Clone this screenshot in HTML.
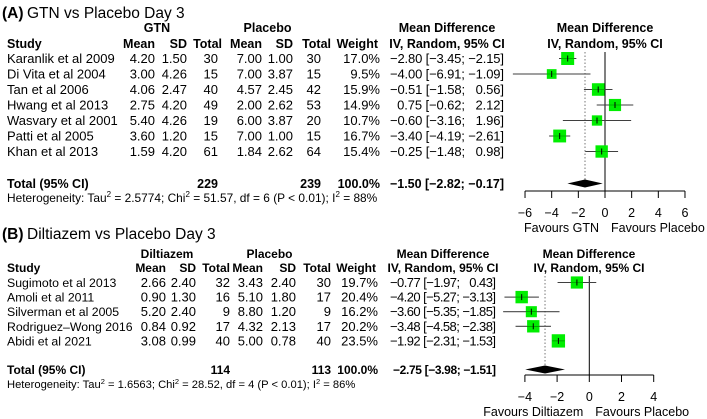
<!DOCTYPE html>
<html><head><meta charset="utf-8"><style>
html,body{margin:0;padding:0;background:#fff;}
svg{display:block;font-family:"Liberation Sans",Arial,sans-serif;}
svg text{white-space:pre;}
</style></head><body>
<svg id="c" width="707" height="419" viewBox="0 0 707 419" xmlns="http://www.w3.org/2000/svg"></svg>
<script>
// Panel A data
const aStudies=["Karanlik et al 2009","Di Vita et al 2004","Tan et al 2006","Hwang et al 2013","Wasvary et al 2001","Patti et al 2005","Khan et al 2013"];
const aM1=["4.20","3.00","4.06","2.75","5.40","3.60","1.59"];
const aS1=["1.50","4.26","2.47","4.20","4.26","1.20","4.20"];
const aN1=[30,15,40,49,19,15,61];
const aM2=["7.00","7.00","4.57","2.00","6.00","7.00","1.84"];
const aS2=["1.00","3.87","2.45","2.62","3.87","1.00","2.62"];
const aN2=[30,15,42,53,20,15,64];
const aW=[17.0,9.5,15.9,14.9,10.7,16.7,15.4];
const aMD=[-2.80,-4.00,-0.51,0.75,-0.60,-3.40,-0.25];
const aLo=[-3.45,-6.91,-1.58,-0.62,-3.16,-4.19,-1.48];
const aHi=[-2.15,-1.09,0.56,2.12,1.96,-2.61,0.98];
const aTotal={md:-1.50,lo:-2.82,hi:-0.17};
const aTicks=[-6,-4,-2,0,2,4,6];
// Panel B data
const bStudies=["Sugimoto et al 2013","Amoli et al 2011","Silverman et al 2005","Rodriguez\u2013Wong 2016","Abidi et al 2021"];
const bM1=["2.66","0.90","5.20","0.84","3.08"];
const bS1=["2.40","1.30","2.40","0.92","0.99"];
const bN1=[32,16,9,17,40];
const bM2=["3.43","5.10","8.80","4.32","5.00"];
const bS2=["2.40","1.80","1.20","2.13","0.78"];
const bN2=[30,17,9,17,40];
const bW=[19.7,20.4,16.2,20.2,23.5];
const bMD=[-0.77,-4.20,-3.60,-3.48,-1.92];
const bLo=[-1.97,-5.27,-5.35,-4.58,-2.31];
const bHi=[0.43,-3.13,-1.85,-2.38,-1.53];
const bTotal={md:-2.75,lo:-3.98,hi:-1.51};
const bTicks=[-4,-2,0,2,4];

const svg=document.getElementById('c');
const NS="http://www.w3.org/2000/svg";
function el(tag,attrs,name,txt){const e=document.createElementNS(NS,tag);for(const k in attrs)e.setAttribute(k,attrs[k]);


if(txt!==undefined)e.textContent=txt;svg.appendChild(e);return e;}
let FS=13, HFS=12.5;
function t(x,y,s,name,o){o=o||{};const e=el('text',{x:x,y:y,'font-size':o.fs||FS,'text-anchor':o.a||'start','font-weight':o.b?'bold':'normal',fill:'#000'},name,s);
 if(o.tl){e.setAttribute('textLength',o.tl);e.setAttribute('lengthAdjust','spacing');}return e;}
const f=v=>(v<0?'\u2212':'')+Math.abs(v).toFixed(2);
const pad=v=>(v>=0?'\u2007':'')+f(v);
const ci=(m,l,h)=>pad(m)+' ['+f(l)+'; '+pad(h)+']';

function panel(P){
  FS=P.fs; HFS=P.hfs;
  t(2,P.titleY,P.letter,'panel-label',{fs:15.5,b:true});
  t(P.letterW,P.titleY,P.title,'panel-title',{fs:15.5});
  const c=P.cols;
  t((c.m1+c.s1)/2-14,P.h1,P.g1,'group1-header',{b:true,a:'middle',fs:HFS});
  t((c.m2+c.s2)/2-10,P.h1,'Placebo','group2-header',{b:true,a:'middle',fs:HFS});
  t(c.md-P.tl/2,P.h1,'Mean Difference','md-header',{b:true,a:'middle',fs:HFS});
  t(P.fc,P.h1,'Mean Difference','forest-header',{b:true,a:'middle',fs:HFS});
  t(7,P.h2,'Study','study-header',{b:true,fs:HFS});
  [['Mean',c.m1],['SD',c.s1],['Total',c.n1+P.ho1],['Mean',c.m2],['SD',c.s2],['Total',c.n2+P.ho2],['Weight',c.w-2]].forEach(h=>t(h[1],P.h2,h[0],'column-header',{b:true,a:'end',fs:HFS}));
  t(c.md-P.tl/2,P.h2,'IV, Random, 95% CI','md-subheader',{b:true,a:'middle',fs:HFS});
  t(P.fc,P.h2,'IV, Random, 95% CI','forest-subheader',{b:true,a:'middle',fs:HFS});
  const x=v=>P.x0+v*P.sc;
  el('line',{x1:x(0),x2:x(0),y1:P.h2+4,y2:P.axY,stroke:'#000','stroke-width':1},'zero-line');
  el('line',{x1:x(P.tot.md),x2:x(P.tot.md),y1:P.h2+4,y2:P.totY,stroke:'#777','stroke-width':1,'stroke-dasharray':'1.5,2'},'pooled-effect-line');
  P.st.forEach((s,i)=>{
    const y=P.r0+i*P.rs;
    t(7,y,s,'study-name',{fs:P.sfs});
    t(c.m1,y,P.m1[i],'mean-1',{a:'end'});t(c.s1,y,P.s1[i],'sd-1',{a:'end'});t(c.n1,y,P.n1[i],'total-1',{a:'end'});
    t(c.m2,y,P.m2[i],'mean-2',{a:'end'});t(c.s2,y,P.s2[i],'sd-2',{a:'end'});t(c.n2,y,P.n2[i],'total-2',{a:'end'});
    t(c.w,y,P.w[i].toFixed(1)+'%','weight',{a:'end'});
    t(c.md-P.tl,y,ci(P.md[i],P.lo[i],P.hi[i]),'mean-difference-ci',{tl:P.tl});
    const cy=y-4.5, sz=P.k*Math.sqrt(P.w[i]);
    el('line',{x1:x(P.lo[i]),x2:x(P.hi[i]),y1:cy,y2:cy,stroke:'#555','stroke-width':1},'ci-line');
    el('rect',{x:x(P.md[i])-sz/2,y:cy-sz/2,width:sz,height:sz,fill:'#00ee00'},'study-box');
    el('line',{x1:x(P.md[i]),x2:x(P.md[i]),y1:cy-3,y2:cy+3,stroke:'#000','stroke-width':1},'point-estimate');
    el('line',{x1:x(P.lo[i]),x2:x(P.hi[i]),y1:cy,y2:cy,stroke:'#000','stroke-width':0.6,'stroke-opacity':0.5},'ci-line-inner');
  });
  t(7,P.totY,'Total (95% CI)','total-label',{b:true,fs:HFS});
  t(c.n1,P.totY,P.tn1,'total-n1',{b:true,a:'end',fs:HFS});
  t(c.n2,P.totY,P.tn2,'total-n2',{b:true,a:'end',fs:HFS});
  t(c.w,P.totY,'100.0%','total-weight',{b:true,a:'end',fs:HFS});
  t(c.md-P.ttl,P.totY,ci(P.tot.md,P.tot.lo,P.tot.hi),'total-effect',{b:true,fs:HFS,tl:P.ttl});
  const dy=P.totY-4.5;
  el('polygon',{points:`${x(P.tot.lo)},${dy} ${x(P.tot.md)},${dy-4} ${x(P.tot.hi)},${dy} ${x(P.tot.md)},${dy+4}`,fill:'#000'},'pooled-diamond');
  const het=el('text',{x:7,y:P.hetY,'font-size':P.hetFs,fill:'#000'},'heterogeneity-text');
  het.innerHTML=P.het;
  el('line',{x1:x(P.ticks[0]),x2:x(P.ticks[P.ticks.length-1]),y1:P.axY,y2:P.axY,stroke:'#000','stroke-width':1},'x-axis');
  P.ticks.forEach(v=>{
    el('line',{x1:x(v),x2:x(v),y1:P.axY,y2:P.axY+7,stroke:'#000','stroke-width':1},'x-tick');
    t(x(v),P.axY+26,f(v).replace('.00',''),'x-tick-label',{a:'middle',fs:12.5});
  });
  t(x(0)-6,P.axY+41,P.fav1,'favours-left-label',{a:'end',fs:12.5});
  t(x(0)+6,P.axY+41,'Favours Placebo','favours-right-label',{fs:12.5});
}
panel({letter:'(A)',letterW:27,title:'GTN vs Placebo Day 3',titleY:18,h1:32,h2:48,g1:'GTN',r0:63,rs:15.5,fs:13,hfs:12.5,sfs:13,
 cols:{m1:155,s1:187,n1:218,m2:262,s2:293,n2:321,w:380,md:504},ho1:4,ho2:10,tl:114,ttl:114,
 st:aStudies,m1:aM1,s1:aS1,n1:aN1,m2:aM2,s2:aS2,n2:aN2,w:aW,md:aMD,lo:aLo,hi:aHi,tot:aTotal,tn1:229,tn2:239,
 totY:188,hetY:202,hetFs:11.9,het:'Heterogeneity: Tau<tspan dy="-5" font-size="8">2</tspan><tspan dy="5"> = 2.5774; Chi</tspan><tspan dy="-5" font-size="8">2</tspan><tspan dy="5"> = 51.57, df = 6 (P &lt; 0.01); I</tspan><tspan dy="-5" font-size="8">2</tspan><tspan dy="5"> = 88%</tspan>',
 x0:605,sc:13.33,fc:605,axY:191,ticks:aTicks,fav1:'Favours GTN',k:3.15});
panel({letter:'(B)',letterW:27,title:'Diltiazem vs Placebo Day 3',titleY:239,h1:258,h2:272,g1:'Diltiazem',r0:287,rs:14.6,fs:13,hfs:12,sfs:12.3,
 cols:{m1:166,s1:196,n1:230,m2:263,s2:296,n2:331,w:378,md:496},ho1:0,ho2:0,tl:106,ttl:103,
 st:bStudies,m1:bM1,s1:bS1,n1:bN1,m2:bM2,s2:bS2,n2:bN2,w:bW,md:bMD,lo:bLo,hi:bHi,tot:bTotal,tn1:114,tn2:113,
 totY:374,hetY:388,hetFs:11.2,het:'Heterogeneity: Tau<tspan dy="-4" font-size="7.5">2</tspan><tspan dy="4"> = 1.6563; Chi</tspan><tspan dy="-4" font-size="7.5">2</tspan><tspan dy="4"> = 28.52, df = 4 (P &lt; 0.01); I</tspan><tspan dy="-4" font-size="7.5">2</tspan><tspan dy="4"> = 86%</tspan>',
 x0:589.3,sc:16.1,fc:589,axY:375,ticks:bTicks,fav1:'Favours Diltiazem',k:2.75});
</script>
</body></html>
